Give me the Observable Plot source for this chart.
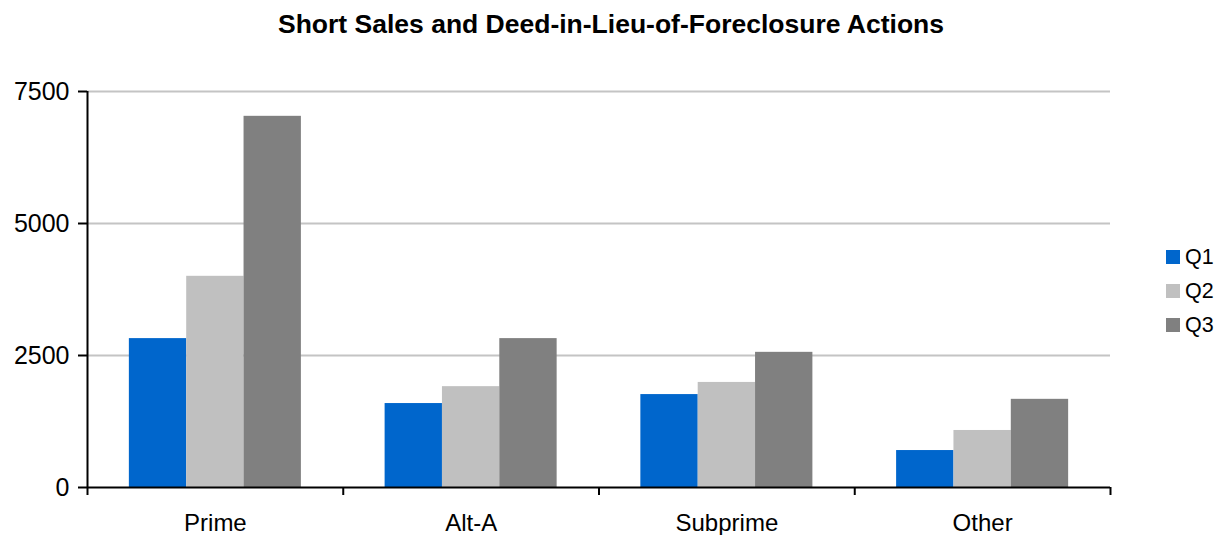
<!DOCTYPE html>
<html>
<head>
<meta charset="utf-8">
<script src="https://cdn.jsdelivr.net/npm/d3@7"></script>
<script src="https://cdn.jsdelivr.net/npm/@observablehq/plot@0.6"></script>
<style>
  html, body { margin: 0; padding: 0; background: #fff; }
  #wrap { position: relative; width: 1216px; height: 535px; font-family: "Liberation Sans", Arial, sans-serif; color: #000; }
  #title { position: absolute; left: 0; width: 1222px; top: 9px; text-align: center; font-weight: bold; font-size: 26.5px; line-height: 30px; }
  #legend { position: absolute; left: 1166px; top: 240px; font-size: 21.5px; }
  .li { display: flex; align-items: center; height: 34px; }
  .sw { width: 14px; height: 14px; margin-right: 5px; }
  #chart { position: absolute; left: 0; top: 0; }
</style>
</head>
<body>
<div id="wrap">
  <div id="chart"></div>
  <div id="title">Short Sales and Deed-in-Lieu-of-Foreclosure Actions</div>
  <div id="legend"></div>
</div>
<script>
const categories = ["Prime", "Alt-A", "Subprime", "Other"];
const quarters = ["Q1", "Q2", "Q3"];
const q1Values = [2820, 1590, 1760, 700];
const q2Values = [4000, 1910, 1990, 1080];
const q3Values = [7030, 2820, 2560, 1670];
const yTicks = [0, 2500, 5000, 7500];
const colors = ["#0066cc", "#c0c0c0", "#808080"];

const series = [q1Values, q2Values, q3Values];
const data = categories.flatMap((c, i) =>
  quarters.map((q, k) => ({category: c, quarter: q, value: series[k][i]})));

const W = 1216, H = 535, mL = 87, mR = 106, mT = 91, mB = 48;
const bw = (W - mL - mR) / categories.length;
const inner = d3.scaleBand(quarters, [0, bw]).paddingInner(0).paddingOuter(0.73);

const chart = Plot.plot({
  width: W, height: H,
  marginLeft: mL, marginRight: mR, marginTop: mT, marginBottom: mB,
  style: {fontFamily: '"Liberation Sans", Arial, sans-serif', fontSize: "24px", color: "#000", background: "transparent"},
  x: {domain: categories, padding: 0, round: false, axis: null, label: null},
  y: {domain: [0, 7500], axis: null, label: null},
  color: {domain: quarters, range: colors},
  marks: [
    Plot.gridY({ticks: yTicks.slice(1), stroke: "#c4c4c4", strokeOpacity: 1, strokeWidth: 2}),
    ...quarters.map(q => Plot.barY(data.filter(d => d.quarter === q), {
      x: "category", y: "value", fill: "quarter",
      insetLeft: inner(q), insetRight: bw - inner(q) - inner.bandwidth()
    })),
    Plot.ruleY([0], {stroke: "#000", strokeWidth: 2}),
    Plot.ruleX([categories[0]], {dx: -bw / 2, y1: 0, y2: 7500, stroke: "#000", strokeWidth: 2}),
    Plot.axisY({ticks: yTicks, tickSize: 9, tickPadding: 9, tickFormat: d3.format("d"), fontSize: 25, stroke: "#000", strokeWidth: 2, label: null}),
    Plot.axisX({tickSize: 8, tickFormat: () => "", dx: -bw / 2, stroke: "#000", strokeWidth: 2, label: null}),
    Plot.axisX({ticks: [categories[categories.length - 1]], tickSize: 8, tickFormat: () => "", dx: bw / 2, stroke: "#000", strokeWidth: 2, label: null}),
    Plot.axisX({tickSize: 0, tickPadding: 26, fontSize: 24, label: null})
  ]
});
document.getElementById("chart").appendChild(chart);

const legend = document.getElementById("legend");
quarters.forEach((q, k) => {
  const row = document.createElement("div");
  row.className = "li";
  const sw = document.createElement("span");
  sw.className = "sw";
  sw.style.background = colors[k];
  const t = document.createElement("span");
  t.textContent = q;
  row.appendChild(sw);
  row.appendChild(t);
  legend.appendChild(row);
});
</script>
</body>
</html>
